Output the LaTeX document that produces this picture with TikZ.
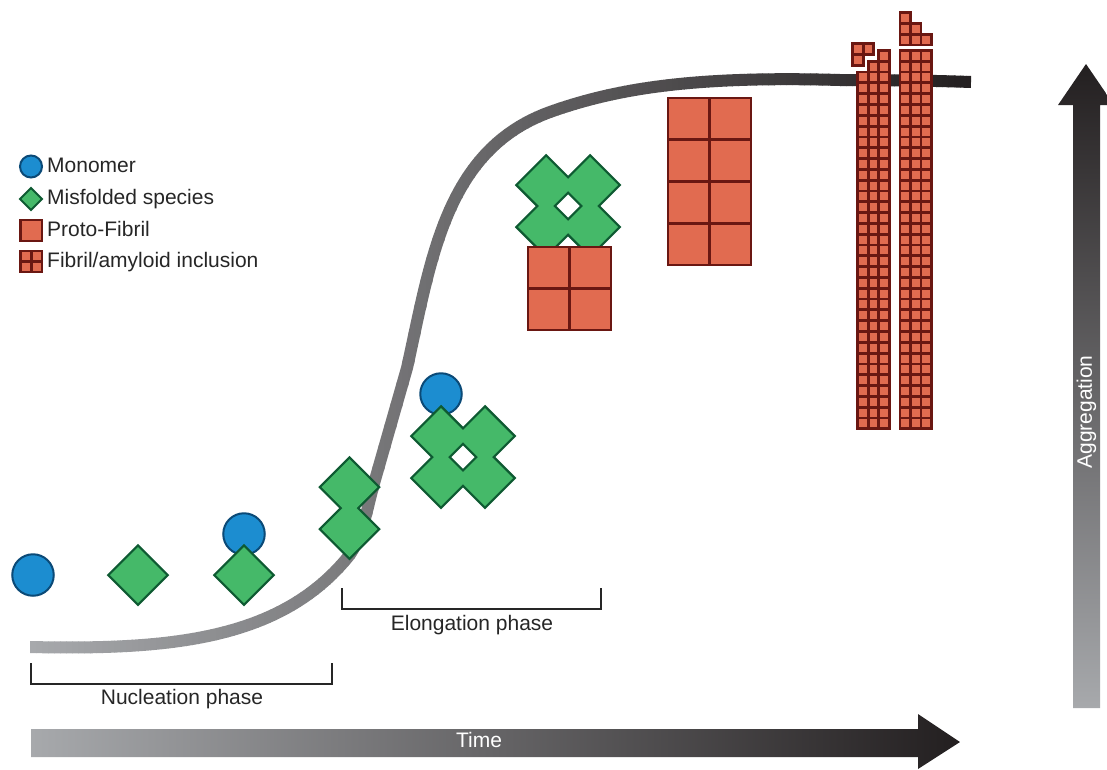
\documentclass[tikz,border=0pt]{standalone}
\usepackage{fontspec}
\setmainfont{Liberation Sans}
\usepackage{tikz}

\definecolor{monoblue}{HTML}{1C8DD0}
\definecolor{monoedge}{HTML}{0B4A77}
\definecolor{misgreen}{HTML}{45B969}
\definecolor{misedge}{HTML}{0E5A32}
\definecolor{fibfill}{HTML}{E16B50}
\definecolor{fibedge}{HTML}{6A1712}
\definecolor{lightend}{HTML}{A7A9AC}
\definecolor{darkend}{HTML}{231F20}

\tikzset{
    monomer/.style={circle, draw=monoedge, fill=monoblue, line width=2pt, inner sep=0pt},
    label text/.style={font=\fontsize{21}{24}\selectfont, text=black!85, inner sep=0pt},
    proto/.style={draw=fibedge, fill=fibfill, line width=2.6pt},
    fibril/.style={draw=fibedge, fill=fibfill, line width=2.8pt},
    bracket/.style={draw=black!85, line width=1.5pt},
}

% misfolded unit: edge stroked first, then the fill over it, so groups merge
\newcommand{\misedge}[3]{\draw[misedge, line width=4.6pt, miter limit=10] (#1-#3,#2) -- (#1,#2-#3) -- (#1+#3,#2) -- (#1,#2+#3) -- cycle;}
\newcommand{\misfill}[3]{\fill[misgreen] (#1-#3,#2) -- (#1,#2-#3) -- (#1+#3,#2) -- (#1,#2+#3) -- cycle;}
\newcommand{\misgroup}[1]{
    \foreach \px/\py in {#1} {\misedge{\px}{\py}{28}}
    \foreach \px/\py in {#1} {\misfill{\px}{\py}{28}}
}
% column of fibril cells: left edge, bottom edge, number of cells
\newcommand{\fibcol}[3]{
    \foreach \r in {1,...,#3}
        \draw[fibril] (#1, #2 - \r*10.81 + 10.81) rectangle (#1 + 10.5, #2 - \r*10.81);
}

\begin{document}
\begin{tikzpicture}[x=1pt, y=-1pt]
    \useasboundingbox (0,0) rectangle (1107,769);

    % growth curve, painted in vertical strips from light to dark
    \foreach \x in {30,36,...,966} {
        \pgfmathsetmacro{\shadeval}{(\x-30)/9.41}
        \pgfmathsetmacro{\stripend}{min(\x+6.5,971)}
        \begin{scope}
            \clip (\x,0) rectangle (\stripend,769);
            \draw[line width=12pt, darkend!\shadeval!lightend]
                (30,647) .. controls (170,650) and (280,640) .. (348,557)
                .. controls (362,540) and (368,505) .. (373,487)
                -- (407,368)
                .. controls (431,260) and (445,150) .. (550,112)
                .. controls (620,87) and (700,76) .. (840,80)
                .. controls (880,80) and (930,80.5) .. (971,82);
        \end{scope}
    }

    % axes
    \shade[left color=lightend, right color=darkend]
        (31,729) -- (918,729) -- (918,714) -- (960,742) -- (918,769) -- (918,757) -- (31,757) -- cycle;
    \node[label text, text=white] (time) at (479,740) {Time};
    \shade[bottom color=lightend, top color=darkend]
        (1073,708) -- (1073,105) -- (1058,105) -- (1086,64) -- (1114,105) -- (1100,105) -- (1100,708) -- cycle;
    \node[label text, text=white, rotate=90] (aggregation) at (1086.5,412) {Aggregation};

    % phases
    \coordinate (nucA) at (31,663);
    \coordinate (nucB) at (332,663);
    \coordinate (eloA) at (342,588);
    \coordinate (eloB) at (601,588);
    \draw[bracket] (nucA) -- (31,684) -- (332,684) -- (nucB);
    \draw[bracket] (eloA) -- (342,609) -- (601,609) -- (eloB);
    \node[label text] (nucleation) at (182,699.5) {Nucleation phase};
    \node[label text] (elongation) at (472,625) {Elongation phase};

    % monomers and misfolded species
    \node[monomer, minimum size=41.5pt] (mono1) at (33,575) {};
    \node[monomer, minimum size=41.5pt] (mono2) at (244,534) {};
    \node[monomer, minimum size=41.5pt] (mono3) at (441,394) {};
    \misgroup{138/575}
    \misgroup{244/575}
    \misgroup{349.5/487, 349.5/529}
    \misgroup{441/436, 485/436, 441/478, 485/478}
    \misgroup{546/185, 590/185, 546/227, 590/227}

    % proto-fibrils
    \foreach \col in {0,1}
        \foreach \row in {0,1}
            \draw[proto] (528 + \col*41.5, 247 + \row*41.5) rectangle ++(41.5, 41.5);
    \foreach \col in {0,1}
        \foreach \row in {0,...,3}
            \draw[proto] (668 + \col*41.5, 98 + \row*41.75) rectangle ++(41.5, 41.75);

    % fibrils
    \fibcol{857.6}{428.8}{33}
    \fibcol{868.1}{428.8}{34}
    \fibcol{878.6}{428.8}{35}
    \fibcol{900}{428.8}{35}
    \fibcol{910.5}{428.8}{35}
    \fibcol{921}{428.8}{35}
    \fibcol{900}{45}{3}
    \fibcol{910.5}{45}{2}
    \fibcol{921}{45}{1}
    \fibcol{852.8}{65.3}{2}
    \fibcol{863.3}{54.5}{1}

    % key
    \node[monomer, minimum size=22pt] (keyMono) at (31,166.5) {};
    \draw[misedge, fill=misgreen, line width=2pt] (20,199) -- (31,188) -- (42,199) -- (31,210) -- cycle;
    \draw[proto] (20.5,220) rectangle (42,241);
    \draw[proto] (20.5,251) rectangle (42,272);
    \draw[proto] (31.2,251) -- (31.2,272);
    \draw[proto] (20.5,261.5) -- (42,261.5);
    \node[label text, anchor=base west] (keyA) at (47,172) {Monomer};
    \node[label text, anchor=base west] (keyB) at (47,204) {Misfolded species};
    \node[label text, anchor=base west] (keyC) at (47,236) {Proto-Fibril};
    \node[label text, anchor=base west] (keyD) at (47,267) {Fibril/amyloid inclusion};
\end{tikzpicture}
\end{document}
